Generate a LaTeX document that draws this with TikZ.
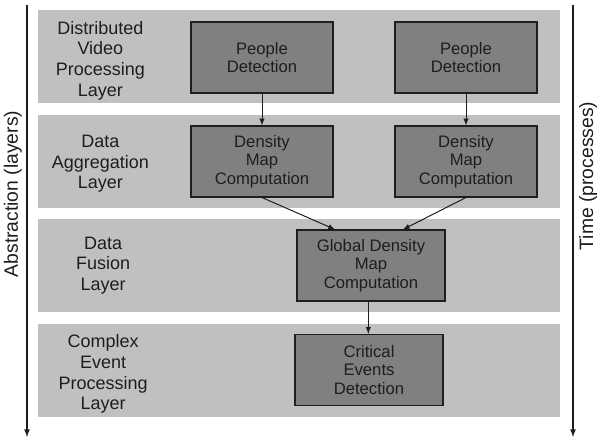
\documentclass[tikz,border=0pt]{standalone}
\usepackage{fontspec}
\setmainfont{Liberation Sans}
\usetikzlibrary{positioning, arrows}
\definecolor{bandgray}{RGB}{192,192,192}
\definecolor{boxgray}{RGB}{128,128,128}
\definecolor{inkgray}{RGB}{30,30,30}
\tikzset{
  >=latex,
  node distance=8.25pt,
  every node/.style={text=inkgray},
  layer/.style={fill=bandgray, minimum width=391.5pt, minimum height=69.75pt, inner sep=0pt},
  layer text/.style={align=center, font=\fontsize{13.5}{15.5}\selectfont},
  process/.style={draw=inkgray, line width=0.8pt, fill=boxgray, align=center,
    font=\fontsize{12.5}{14}\selectfont,
    minimum width=106.5pt, minimum height=53.25pt, inner sep=2pt},
  flow/.style={->, line width=0.75pt, draw=inkgray},
  axis/.style={->, line width=1pt, draw=inkgray},
  axis text/.style={rotate=90, font=\fontsize{14.5}{16}\selectfont},
}

\begin{document}
\begin{tikzpicture}[x=0.75pt, y=-0.75pt]
    \useasboundingbox (0,0) rectangle (597,439);

    % layers
    \node[layer] (dvp) at (299,56.5) {};
    \node[layer, below=of dvp] (agg) {};
    \node[layer, below=of agg] (fus) {};
    \node[layer, below=of fus] (cep) {};

    \node[layer text] at ([xshift=47pt, yshift=-3pt]dvp.west) {Distributed\\Video\\Processing\\Layer};
    \node[layer text] at ([xshift=47pt, yshift=-2pt]agg.west) {Data\\Aggregation\\Layer};
    \node[layer text] at ([xshift=49pt]fus.west) {Data\\Fusion\\Layer};
    \node[layer text] at ([xshift=49pt, yshift=-3pt]cep.west) {Complex\\Event\\Processing\\Layer};

    % processes
    \node[process] (pd1) at (262,57.5) {People\\Detection};
    \node[process] (pd2) at (466,57.5) {People\\Detection};
    \node[process] (dm1) at (262,161.5) {Density\\Map\\Computation};
    \node[process] (dm2) at (466,161.5) {Density\\Map\\Computation};
    \node[process, minimum width=111pt] (gdm) at (371,265.5) {Global Density\\Map\\Computation};
    \node[process, minimum width=111pt] (ced) at (369,370) {Critical\\Events\\Detection};

    % flows
    \draw[flow] (pd1) -- (dm1);
    \draw[flow] (pd2) -- (dm2);
    \draw[flow] (dm1.south) -- ([xshift=-27pt]gdm.north);
    \draw[flow] (dm2.south) -- ([xshift=24pt]gdm.north);
    \draw[flow] ([xshift=-2pt]gdm.south) -- ([xshift=-2pt]gdm.south |- ced.north);

    % axes
    \coordinate (abs top) at (27,5);
    \coordinate (abs end) at (27,437);
    \coordinate (time top) at (573,5);
    \coordinate (time end) at (573,437);
    \draw[axis] (abs top) -- (abs end);
    \draw[axis] (time top) -- (time end);
    \node[axis text] (abs label) at (13,194) {Abstraction (layers)};
    \node[axis text] (time label) at (588,176) {Time (processes)};
\end{tikzpicture}
\end{document}
